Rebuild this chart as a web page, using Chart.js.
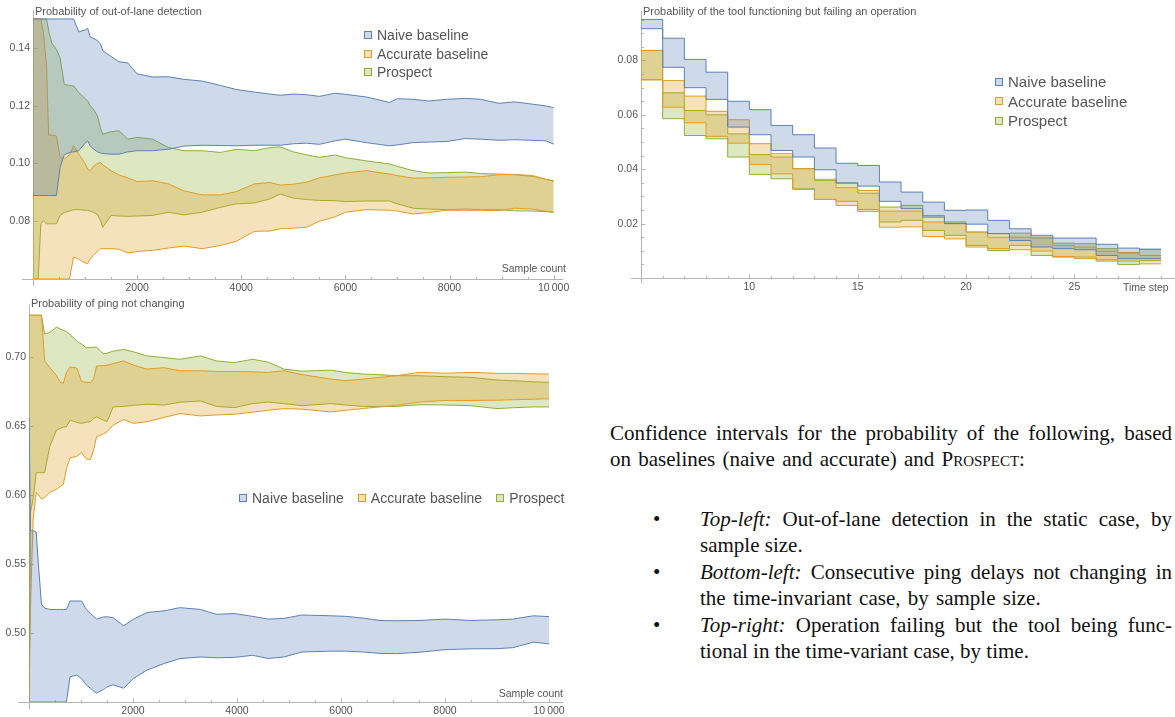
<!DOCTYPE html>
<html>
<head>
<meta charset="utf-8">
<script src="https://cdn.jsdelivr.net/npm/chart.js@4.4.1/dist/chart.umd.min.js"></script>
<style>
  body { margin: 0; background: #fff; width: 1175px; height: 717px; position: relative; overflow: hidden;
         font-family: "Liberation Sans", Arial, sans-serif; }
  canvas { position: absolute; display: block; }
  .lbl { position: absolute; white-space: nowrap; color: #555; line-height: 1; }
  .ttl { font-size: 11px; }
  .axl { font-size: 10.5px; }
  .leg { position: absolute; white-space: nowrap; color: #555; display: flex; }
  .leg .it { display: flex; align-items: center; }
  .sw { width: 6px; height: 6px; border: 1px solid; margin-right: 5px; flex: none; }
  .txt { position: absolute; font-family: "Liberation Serif", "Times New Roman", serif; font-size: 21px;
         line-height: 26px; color: #111; }
  .txt .ln { white-space: nowrap; }
  .txt .j { text-align: justify; text-align-last: justify; }
  .sc { font-variant: small-caps; }
  .item { position: relative; margin-bottom: 1px; }
  .bul { position: absolute; left: -47px; }
</style>
</head>
<body>

<canvas id="laneChart" width="590" height="295" style="left:0;top:0"></canvas>
<canvas id="pingChart" width="590" height="422" style="left:0;top:295px"></canvas>
<canvas id="failChart" width="575" height="295" style="left:600px;top:0"></canvas>

<div class="lbl ttl" style="left:35px;top:6px">Probability of out-of-lane detection</div>
<div class="lbl axl" style="right:609px;top:263px">Sample count</div>
<div class="lbl ttl" style="left:31px;top:298px">Probability of ping not changing</div>
<div class="lbl axl" style="right:612px;top:688px">Sample count</div>
<div class="lbl ttl" style="left:643px;top:6px">Probability of the tool functioning but failing an operation</div>
<div class="lbl axl" style="left:1123px;top:282px">Time step</div>

<div id="legLane" class="leg" style="left:364px;top:26px;flex-direction:column;font-size:14px;line-height:18.5px"></div>
<div id="legFail" class="leg" style="left:995px;top:72px;flex-direction:column;font-size:15px;line-height:19.5px"></div>
<div id="legPing" class="leg" style="left:239px;top:489px;font-size:14px;line-height:18px"></div>

<div class="txt" style="left:610px;top:420px;width:562px">
  <div class="ln j">Confidence intervals for the probability of the following, based</div>
  <div class="ln" style="word-spacing:2px">on baselines (naive and accurate) and <span class="sc">Prospect</span>:</div>
</div>
<div class="txt" style="left:700px;top:506px;width:472px">
  <div class="item"><span class="bul">•</span>
    <div class="ln j"><i>Top-left:</i> Out-of-lane detection in the static case, by</div>
    <div class="ln">sample size.</div>
  </div>
  <div class="item"><span class="bul">•</span>
    <div class="ln j"><i>Bottom-left:</i> Consecutive ping delays not changing in</div>
    <div class="ln" style="word-spacing:2px">the time-invariant case, by sample size.</div>
  </div>
  <div class="item"><span class="bul">•</span>
    <div class="ln j"><i>Top-right:</i> Operation failing but the tool being func-</div>
    <div class="ln">tional in the time-variant case, by time.</div>
  </div>
</div>

<script>
// ---------- series ----------
const seriesNames = ["Naive baseline", "Accurate baseline", "Prospect"];
const seriesColors = ["#5e81b5", "#e19c24", "#8fb032"];
const seriesFills = ["rgba(94,129,181,0.3)", "rgba(225,156,36,0.3)", "rgba(143,176,50,0.3)"];

// ---------- top-left: out-of-lane detection, by sample count ----------
const laneX = [0, 100, 150, 200, 260, 300, 360, 450, 520, 600, 700, 780, 880, 1000, 1050, 1100, 1170, 1240, 1300, 1340,
  1500, 1650, 1820, 2000, 2300, 2600, 2900, 3250, 3600, 3900, 4250, 4550, 4750, 5000, 5250, 5500, 5800, 6000, 6400, 6850,
  7000, 7300, 7600, 7950, 8300, 8600, 8950, 9250, 9600, 9850, 10000];
const laneNaiveHi = [0.15, 0.15, 0.15, 0.15, 0.15, 0.15, 0.15, 0.15, 0.15, 0.15, 0.15, 0.15, 0.1455, 0.1462, 0.1468, 0.1437, 0.1432, 0.1425, 0.1412, 0.1390,
  0.1370, 0.1352, 0.1348, 0.1310, 0.1299, 0.1300, 0.1291, 0.1285, 0.1270, 0.1256, 0.1247, 0.1240, 0.1236, 0.1240, 0.1238, 0.1232, 0.1243, 0.1239, 0.1230, 0.1211,
  0.1224, 0.1222, 0.1216, 0.1222, 0.1225, 0.1222, 0.1208, 0.1213, 0.1205, 0.1199, 0.1193];
const laneNaiveLo = [0.0889, 0.0889, 0.0889, 0.0889, 0.0889, 0.0889, 0.0889, 0.0889, 0.0986, 0.1030, 0.1038, 0.1040, 0.1044, 0.1070, 0.1078, 0.1060, 0.1049, 0.1040, 0.1036, 0.1034,
  0.1032, 0.1032, 0.1040, 0.1044, 0.1044, 0.1049, 0.1060, 0.1063, 0.1062, 0.1061, 0.1063, 0.1063, 0.1063, 0.1068, 0.1070, 0.1066, 0.1078, 0.1084, 0.1072, 0.1061,
  0.1064, 0.1072, 0.1074, 0.1076, 0.1086, 0.1084, 0.1080, 0.1082, 0.1080, 0.1078, 0.1067];
const laneAccHi = [0.15, 0.15, 0.15, 0.1452, 0.1337, 0.1098, 0.1098, 0.1095, 0.1021, 0.1015, 0.1030, 0.1061, 0.1032, 0.1000, 0.0980, 0.0975, 0.0992, 0.1000, 0.1003, 0.0995,
  0.0975, 0.0960, 0.0950, 0.0937, 0.0940, 0.0929, 0.0905, 0.0891, 0.0891, 0.0902, 0.0929, 0.0934, 0.0925, 0.0928, 0.0935, 0.0950, 0.0960, 0.0967, 0.0975, 0.0963,
  0.0958, 0.0949, 0.0950, 0.0952, 0.0953, 0.0954, 0.0961, 0.0962, 0.0958, 0.0945, 0.0938];
const laneAccLo = [0.06, 0.06, 0.06, 0.06, 0.06, 0.06, 0.06, 0.06, 0.06, 0.06, 0.0600, 0.0676, 0.0668, 0.0656, 0.0653, 0.0670, 0.0685, 0.0695, 0.0705, 0.0705,
  0.0705, 0.0703, 0.0690, 0.0695, 0.0699, 0.0707, 0.0714, 0.0705, 0.0716, 0.0730, 0.0765, 0.0766, 0.0774, 0.0776, 0.0779, 0.0800, 0.0815, 0.0831, 0.0840, 0.0838,
  0.0835, 0.0825, 0.0830, 0.0838, 0.0838, 0.0838, 0.0837, 0.0845, 0.0842, 0.0835, 0.0831];
const laneProHi = [0.15, 0.15, 0.15, 0.15, 0.15, 0.1460, 0.1417, 0.1395, 0.1365, 0.1274, 0.1270, 0.1268, 0.1245, 0.1225, 0.1216, 0.1200, 0.1185, 0.1164, 0.1120, 0.1101,
  0.1110, 0.1113, 0.1084, 0.1090, 0.1084, 0.1055, 0.1044, 0.1044, 0.1038, 0.1049, 0.1044, 0.1055, 0.1057, 0.1040, 0.1030, 0.1021, 0.1029, 0.1020, 0.1009, 0.0998,
  0.0990, 0.0975, 0.0967, 0.0968, 0.0970, 0.0965, 0.0963, 0.0961, 0.0955, 0.0945, 0.0940];
const laneProLo = [0.06, 0.06, 0.0790, 0.0802, 0.0791, 0.0791, 0.0791, 0.0791, 0.0820, 0.0830, 0.0835, 0.0840, 0.0840, 0.0838, 0.0838, 0.0835, 0.0830, 0.0822, 0.0800, 0.0779,
  0.0820, 0.0818, 0.0817, 0.0818, 0.0820, 0.0831, 0.0822, 0.0831, 0.0848, 0.0860, 0.0863, 0.0877, 0.0894, 0.0880, 0.0875, 0.0872, 0.0871, 0.0868, 0.0870, 0.0870,
  0.0860, 0.0845, 0.0842, 0.0840, 0.0842, 0.0840, 0.0840, 0.0836, 0.0835, 0.0833, 0.0831];
const laneXLabels = [2000, 4000, 6000, 8000, 10000];
const laneYLabels = [0.08, 0.10, 0.12, 0.14];

// ---------- bottom-left: ping not changing, by sample count ----------
const pingX = [0, 30, 80, 140, 180, 240, 300, 400, 530, 600, 660, 720, 790, 920, 1010, 1100, 1180, 1240, 1300, 1430,
  1500, 1620, 1820, 2010, 2270, 2600, 2900, 3300, 3600, 3950, 4300, 4600, 4900, 5250, 5800, 6100, 6430, 6750, 7070, 7500,
  8000, 8500, 9000, 9300, 9700, 10000];
const pingNaiveHi = [0.656, 0.574, 0.574, 0.573, 0.550, 0.5207, 0.518, 0.517, 0.517, 0.517, 0.517, 0.517, 0.5231, 0.5231, 0.5231, 0.5171, 0.514, 0.512, 0.510, 0.5115,
  0.5117, 0.511, 0.5052, 0.510, 0.5148, 0.5160, 0.5183, 0.5170, 0.5135, 0.514, 0.5120, 0.510, 0.5105, 0.5130, 0.5124, 0.5120, 0.5107, 0.5090, 0.5088, 0.5090,
  0.510, 0.509, 0.5095, 0.510, 0.5124, 0.5118];
const pingNaiveLo = [0.45, 0.45, 0.45, 0.45, 0.45, 0.45, 0.45, 0.45, 0.45, 0.45, 0.45, 0.45, 0.4683, 0.4695, 0.467, 0.4624, 0.460, 0.458, 0.4564, 0.459,
  0.461, 0.4624, 0.460, 0.4671, 0.4731, 0.4779, 0.4814, 0.4826, 0.4820, 0.4823, 0.4838, 0.4815, 0.4826, 0.4862, 0.4868, 0.4868, 0.4862, 0.4852, 0.4850, 0.4860,
  0.4879, 0.4885, 0.4886, 0.4893, 0.4933, 0.4921];
const pingAccHi = [0.73, 0.73, 0.73, 0.73, 0.73, 0.73, 0.6969, 0.6921, 0.6862, 0.6814, 0.6807, 0.6886, 0.6926, 0.6917, 0.6821, 0.6814, 0.6814, 0.6838, 0.6933, 0.6935,
  0.6938, 0.695, 0.6969, 0.6938, 0.691, 0.692, 0.6898, 0.6898, 0.6893, 0.6893, 0.689, 0.6886, 0.6898, 0.6870, 0.6838, 0.6826, 0.6838, 0.685, 0.6862, 0.6886,
  0.6880, 0.6886, 0.6879, 0.6879, 0.6876, 0.6874];
const pingAccLo = [0.45, 0.52, 0.5826, 0.6017, 0.600, 0.5969, 0.598, 0.6017, 0.604, 0.606, 0.6076, 0.6188, 0.6267, 0.6279, 0.6307, 0.626, 0.6255, 0.632, 0.6421, 0.644,
  0.6457, 0.6505, 0.6545, 0.6517, 0.6529, 0.656, 0.6588, 0.6571, 0.6578, 0.6583, 0.6598, 0.6612, 0.6624, 0.662, 0.660, 0.6612, 0.6625, 0.6636, 0.6648, 0.6671,
  0.6683, 0.6683, 0.6685, 0.6688, 0.6692, 0.6695];
const pingProHi = [0.73, 0.73, 0.73, 0.73, 0.73, 0.73, 0.7165, 0.7175, 0.7214, 0.720, 0.719, 0.7183, 0.716, 0.7112, 0.709, 0.7064, 0.7066, 0.7068, 0.7069, 0.7021,
  0.7025, 0.704, 0.7052, 0.7035, 0.7005, 0.6993, 0.6981, 0.7005, 0.6969, 0.6957, 0.6981, 0.6960, 0.691, 0.6895, 0.6902, 0.6885, 0.6874, 0.6869, 0.6862, 0.6862,
  0.6855, 0.685, 0.6831, 0.6826, 0.6818, 0.6814];
const pingProLo = [0.45, 0.5874, 0.597, 0.616, 0.616, 0.616, 0.616, 0.635, 0.6469, 0.648, 0.649, 0.6493, 0.654, 0.6525, 0.6517, 0.6525, 0.6529, 0.655, 0.6564, 0.654,
  0.6529, 0.6636, 0.6640, 0.6648, 0.6655, 0.6650, 0.667, 0.6679, 0.6640, 0.6631, 0.666, 0.6671, 0.666, 0.6645, 0.666, 0.6650, 0.664, 0.664, 0.664, 0.6652,
  0.6650, 0.6645, 0.6624, 0.6630, 0.6636, 0.6636];
const pingXLabels = [2000, 4000, 6000, 8000, 10000];
const pingYLabels = [0.50, 0.55, 0.60, 0.65, 0.70];

// ---------- top-right: tool functioning but failing, by time step ----------
// value at step t holds on [t, t+1]; the last entry closes the band at t = 29
const failT = [5, 6, 7, 8, 9, 10, 11, 12, 13, 14, 15, 16, 17, 18, 19, 20, 21, 22, 23, 24, 25, 26, 27, 28, 29];
const failNaiveHi = [0.0951, 0.0882, 0.0804, 0.0757, 0.0650, 0.0619, 0.0561, 0.0527, 0.0478, 0.0422, 0.0414, 0.0353, 0.0316,
  0.0279, 0.0249, 0.0250, 0.0212, 0.0181, 0.0157, 0.0147, 0.0147, 0.0124, 0.0110, 0.0106, 0.0106];
const failNaiveLo = [0.0917, 0.0775, 0.0700, 0.0657, 0.0555, 0.0527, 0.0469, 0.0445, 0.0398, 0.0349, 0.0338, 0.0282, 0.0255,
  0.0224, 0.0200, 0.0198, 0.0163, 0.0138, 0.0114, 0.0108, 0.0104, 0.0083, 0.0071, 0.0071, 0.0071];
const failAccHi = [0.0837, 0.0726, 0.0669, 0.0613, 0.0582, 0.0494, 0.0457, 0.0402, 0.0363, 0.0332, 0.0322, 0.0246, 0.0246,
  0.0206, 0.0200, 0.0169, 0.0163, 0.0150, 0.0150, 0.0120, 0.0114, 0.0099, 0.0094, 0.0083, 0.0083];
const failAccLo = [0.0729, 0.0628, 0.0571, 0.0521, 0.0496, 0.0418, 0.0383, 0.0326, 0.0289, 0.0267, 0.0245, 0.0187, 0.0188,
  0.0153, 0.0144, 0.0114, 0.0108, 0.0104, 0.0099, 0.0079, 0.0071, 0.0062, 0.0062, 0.0052, 0.0052];
const failProHi = [0.0837, 0.0681, 0.0616, 0.0600, 0.0530, 0.0454, 0.0445, 0.0402, 0.0359, 0.0350, 0.0312, 0.0261, 0.0267,
  0.0230, 0.0206, 0.0169, 0.0150, 0.0165, 0.0147, 0.0128, 0.0126, 0.0108, 0.0092, 0.0105, 0.0105];
const failProLo = [0.0729, 0.0586, 0.0524, 0.0512, 0.0445, 0.0381, 0.0365, 0.0328, 0.0289, 0.0282, 0.0252, 0.0206, 0.0212,
  0.0175, 0.0157, 0.0120, 0.0101, 0.0120, 0.0083, 0.0077, 0.0077, 0.0067, 0.0050, 0.0064, 0.0064];
const failXLabels = [10, 15, 20, 25];
const failYLabels = [0.02, 0.04, 0.06, 0.08];

// ---------- helpers ----------
Chart.defaults.font.family = '"Liberation Sans", Arial, sans-serif';

const fmtCount = (v) => v >= 10000 ? String(v).replace(/\B(?=(\d{3})+(?!\d))/g, "\u2009") : String(v);
const fmt2 = (v) => v.toFixed(2);

// tick positions from min to max by step; only the listed values get a label
function tickList(min, max, step, labels, fmt) {
  const out = [];
  const n = Math.round((max - min) / step);
  for (let i = 0; i <= n; i++) {
    const v = +(min + i * step).toFixed(6);
    const major = labels.some(l => Math.abs(l - v) < step / 10);
    out.push({ value: v, lbl: major ? fmt(v) : "", major });
  }
  return out;
}

// axis lines with inward ticks, Mathematica style
const mmaAxes = {
  id: "mmaAxes",
  beforeDatasetsDraw(chart, args, opts) {
    const { ctx, chartArea: a, scales: { x, y } } = chart;
    const bx = Math.round(a.left) + 0.5, by = Math.round(a.bottom) + 0.5;
    ctx.save();
    ctx.strokeStyle = "#b4b4b4";
    ctx.lineWidth = 1;
    ctx.beginPath();
    ctx.moveTo(a.left - (opts.xOver || 0), by); ctx.lineTo(a.right, by);
    ctx.moveTo(bx, a.top); ctx.lineTo(bx, a.bottom + (opts.yOver || 0));
    x.ticks.forEach(t => {
      const px = Math.round(x.getPixelForValue(t.value)) + 0.5;
      ctx.moveTo(px, by); ctx.lineTo(px, by - (t.major ? 4 : 2.5));
    });
    y.ticks.forEach(t => {
      const py = Math.round(y.getPixelForValue(t.value)) + 0.5;
      ctx.moveTo(bx, py); ctx.lineTo(bx + (t.major ? 4 : 2.5), py);
    });
    ctx.stroke();
    ctx.restore();
  }
};

function bands(xs, pairs, stepped) {
  const out = [];
  pairs.forEach(([lo, hi], k) => {
    const pts = arr => arr.map((v, i) => ({ x: xs[i], y: v }));
    const base = { borderColor: seriesColors[k], borderWidth: 1, pointRadius: 0, tension: 0,
                   stepped: stepped ? "before" : false };
    out.push({ ...base, label: seriesNames[k] + " (low)", data: pts(lo), fill: false });
    out.push({ ...base, label: seriesNames[k], data: pts(hi), backgroundColor: seriesFills[k],
               fill: { target: "-1", above: seriesFills[k], below: seriesFills[k] } });
  });
  return out;
}

function axis(min, max, ticks, size) {
  return {
    type: "linear", min, max,
    grid: { display: false, drawTicks: false, tickLength: 0 }, border: { display: false },
    afterBuildTicks: (s) => { s.ticks = ticks; },
    afterFit: (s) => { if (s.isHorizontal()) s.height = size; else s.width = size; },
    ticks: { autoSkip: false, maxRotation: 0, padding: 3, color: "#555", font: { size: 10.5 },
             callback: (v, i, t) => t[i].lbl }
  };
}

function makeChart(id, datasets, pad, xAxis, yAxis, over) {
  return new Chart(document.getElementById(id), {
    type: "line",
    data: { datasets },
    options: {
      responsive: false, animation: false, events: [],
      layout: { padding: pad },
      plugins: { legend: { display: false }, tooltip: { enabled: false }, mmaAxes: over },
      scales: { x: xAxis, y: yAxis }
    },
    plugins: [mmaAxes]
  });
}

function renderLegend(id, gap) {
  const box = document.getElementById(id);
  seriesNames.forEach((name, k) => {
    box.insertAdjacentHTML("beforeend",
      `<div class="it" style="margin-right:${gap}px"><span class="sw" style="border-color:${seriesColors[k]};background:${seriesFills[k]}"></span>${name}</div>`);
  });
}

// ---------- render ----------
makeChart("laneChart",
  bands(laneX, [[laneNaiveLo, laneNaiveHi], [laneAccLo, laneAccHi], [laneProLo, laneProHi]], false),
  { top: 10, right: 27, bottom: 0, left: 0 },
  axis(0, 10180, tickList(0, 10000, 500, laneXLabels, fmtCount), 16),
  axis(0.06, 0.1531, tickList(0.08, 0.14, 0.02, laneYLabels, fmt2), 33),
  { xOver: 11, yOver: 7 });

makeChart("pingChart",
  bands(pingX, [[pingNaiveLo, pingNaiveHi], [pingAccLo, pingAccHi], [pingProLo, pingProHi]], false),
  { top: 5, right: 27, bottom: 0, left: 0 },
  axis(0, 10269, tickList(0, 10000, 500, pingXLabels, fmtCount), 15),
  axis(0.45, 0.7379, tickList(0.50, 0.70, 0.05, pingYLabels, fmt2), 29),
  { xOver: 11, yOver: 7 });

makeChart("failChart",
  bands(failT, [[failNaiveLo, failNaiveHi], [failAccLo, failAccHi], [failProLo, failProHi]], true),
  { top: 11, right: 0, bottom: 0, left: 0 },
  axis(5, 29.64, tickList(5, 29, 1, failXLabels, String), 17),
  axis(0, 0.0982, tickList(0.005, 0.095, 0.005, failYLabels, fmt2), 41),
  { xOver: 10, yOver: 5 });

renderLegend("legLane", 0);
renderLegend("legFail", 0);
renderLegend("legPing", 14);
</script>
</body>
</html>
